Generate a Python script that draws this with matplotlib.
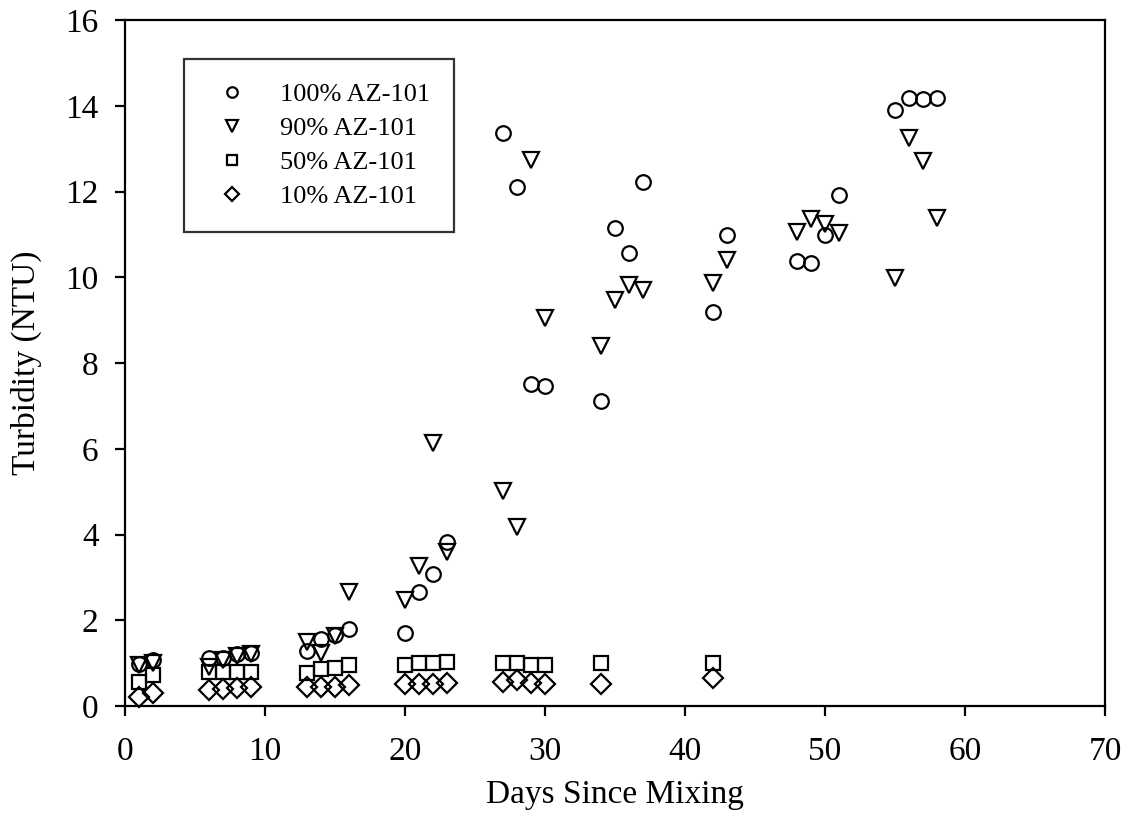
import matplotlib
matplotlib.use("Agg")
import matplotlib.pyplot as plt

# Data
days_100 = [1, 2, 6, 7, 8, 9, 13, 14, 15, 16, 20, 21, 22, 23, 27, 28, 29, 30,
            34, 35, 36, 37, 42, 43, 48, 49, 50, 51, 55, 56, 57, 58]
ntu_100 = [0.98, 1.08, 1.13, 1.12, 1.22, 1.23, 1.29, 1.56, 1.65, 1.80, 1.71, 2.67,
           3.08, 3.83, 13.37, 12.10, 7.51, 7.47, 7.11, 11.16, 10.56, 12.23, 9.20,
           10.99, 10.39, 10.33, 10.99, 11.92, 13.89, 14.19, 14.16, 14.19]

days_90 = [1, 2, 6, 7, 8, 9, 13, 14, 15, 16, 20, 21, 22, 23, 27, 28, 29, 30,
           34, 35, 36, 37, 42, 43, 48, 49, 50, 51, 55, 56, 57, 58]
ntu_90 = [0.95, 1.01, 0.90, 1.07, 1.17, 1.21, 1.50, 1.24, 1.64, 2.67, 2.47, 3.27,
          6.13, 3.60, 5.01, 4.17, 12.73, 9.04, 8.40, 9.48, 9.83, 9.70, 9.86, 10.40,
          11.06, 11.35, 11.24, 11.04, 9.99, 13.24, 12.70, 11.39]

days_50 = [1, 2, 6, 7, 8, 9, 13, 14, 15, 16, 20, 21, 22, 23, 27, 28, 29, 30, 34, 42]
ntu_50 = [0.57, 0.72, 0.80, 0.80, 0.80, 0.80, 0.76, 0.86, 0.88, 0.96, 0.96, 1.01,
          1.01, 1.03, 1.01, 1.01, 0.96, 0.96, 1.01, 1.00]

days_10 = [1, 2, 6, 7, 8, 9, 13, 14, 15, 16, 20, 21, 22, 23, 27, 28, 29, 30, 34, 42]
ntu_10 = [0.22, 0.31, 0.37, 0.39, 0.41, 0.44, 0.44, 0.44, 0.44, 0.49, 0.51, 0.51,
          0.51, 0.53, 0.57, 0.61, 0.54, 0.51, 0.51, 0.65]

labels = ["100% AZ-101", "90% AZ-101", "50% AZ-101", "10% AZ-101"]
x_ticks = [0, 10, 20, 30, 40, 50, 60, 70]
y_ticks = [0, 2, 4, 6, 8, 10, 12, 14, 16]

plt.rcParams['font.family'] = ['Liberation Serif', 'DejaVu Serif']

W, H = 1128, 833
fig = plt.figure(figsize=(W / 100, H / 100), dpi=100)
ax = fig.add_axes([125 / W, (H - 706) / H, 980 / W, 686 / H])

mk = dict(linestyle='none', markerfacecolor='none', markeredgecolor='black',
          markeredgewidth=1.6, clip_on=False)
ax.plot(days_100, ntu_100, marker='o', markersize=10.5, label=labels[0], **mk)
ax.plot(days_90, ntu_90, marker='v', markersize=12, label=labels[1], **mk)
ax.plot(days_50, ntu_50, marker='s', markersize=10.5, label=labels[2], **mk)
ax.plot(days_10, ntu_10, marker='D', markersize=10, label=labels[3], **mk)

ax.set_xlim(0, 70)
ax.set_ylim(0, 16)
ax.set_xticks(x_ticks)
ax.set_yticks(y_ticks)
for s in ax.spines.values():
    s.set_linewidth(1.6)
ax.tick_params(direction='out', length=7, width=1.6, labelsize=24,
               top=False, right=False)
ax.tick_params(axis='x', pad=15)
ax.tick_params(axis='y', pad=12)

ax.set_xlabel("Days Since Mixing", fontsize=24, labelpad=9)
ax.set_ylabel("Turbidity (NTU)", fontsize=24, labelpad=17)

leg = ax.legend(loc='upper left', bbox_to_anchor=(0.060, 0.943),
                borderaxespad=0, fontsize=19, markerscale=0.72,
                frameon=True, fancybox=False, edgecolor='black',
                handlelength=1.82, handletextpad=0.92, borderpad=0.9,
                labelspacing=0.4)
leg.get_frame().set_linewidth(1.6)

fig.savefig("out.png", dpi=100)
